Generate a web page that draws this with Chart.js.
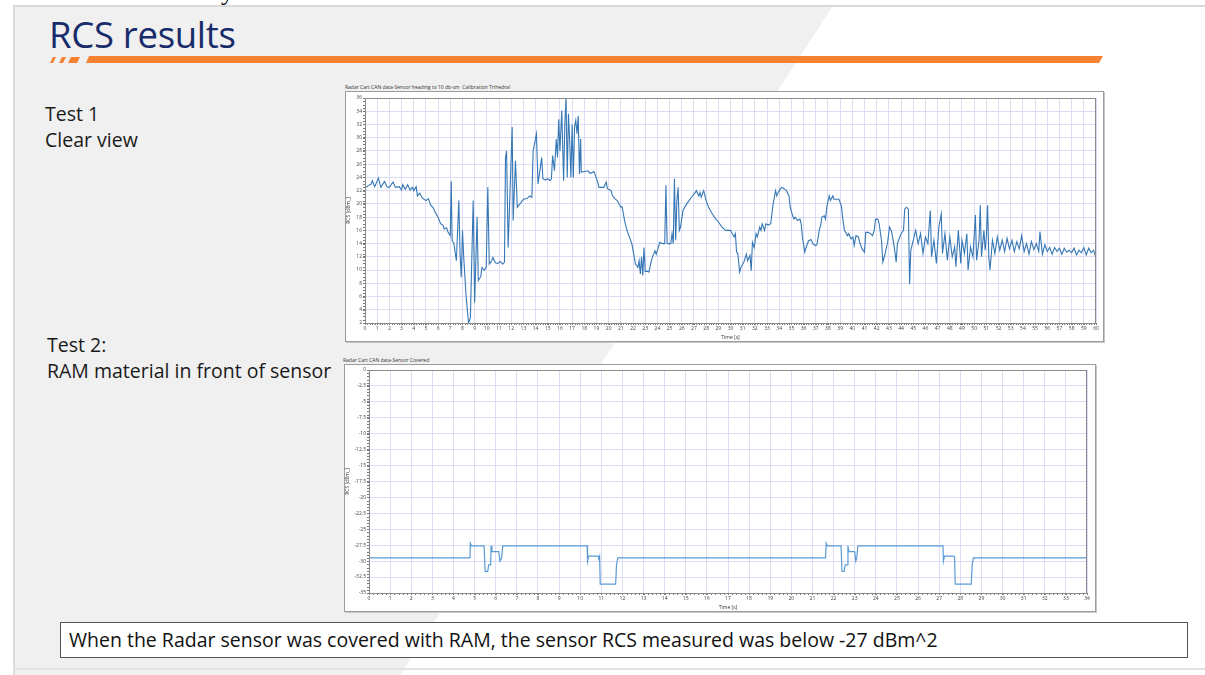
<!DOCTYPE html>
<html>
<head>
<meta charset="utf-8">
<script src="https://cdn.jsdelivr.net/npm/chart.js@4/dist/chart.umd.min.js"></script>
<style>
  body { margin: 0; width: 1205px; height: 675px; position: relative; overflow: hidden; background: #fff; font-family: "Open Sans", "Noto Sans", sans-serif; }
  .abs { position: absolute; }
  #bg { left: 0; top: 0; }
  #title { left: 49px; top: 9px; font-size: 36.5px; color: #182c6b; letter-spacing: -0.3px; }
  .lbl { font-size: 19.5px; color: #1a1a1a; line-height: 26px; }
  .ctitle { font-size: 5px; color: #333; white-space: nowrap; }
  .box { background: #fff; border: 1px solid #9c9c9c; box-shadow: 1px 1px 0 #c8c8c8; }
  #note { left: 60px; top: 622px; border: 1px solid #555; background: #fff; font-size: 19.5px; line-height: 34px; padding-left: 8px; box-sizing: border-box; width: 1128px; height: 36px; color: #111; white-space: nowrap; }
  #cut { left: 221px; top: -23px; font-size: 26px; font-family: "Liberation Serif", serif; color: #000; }
</style>
</head>
<body>
<svg id="bg" class="abs" width="1205" height="675">
  <polygon points="15,7 832,7 400,675 15,675" fill="#f0f0f0"/>
  <rect x="13" y="5" width="1192" height="2" fill="#d9d9d9"/>
  <rect x="13" y="5" width="2" height="670" fill="#dcdcdc"/>
  <rect x="13" y="668" width="1192" height="2" fill="#e2e2e2"/>
  <polygon points="50,63 53,57 56,57 53,63" fill="#f58233"/>
  <polygon points="59,63 62,57 66,57 63,63" fill="#f58233"/>
  <polygon points="68,63 71,57 80,57 77,63" fill="#f58233"/>
  <polygon points="86,63 89,56 1103,56 1099,63" fill="#f58233"/>
</svg>
<div id="cut" class="abs">y</div>
<div id="title" class="abs">RCS results</div>
<div class="abs lbl" style="left:45px; top:101px;">Test 1<br>Clear view</div>
<div class="abs lbl" style="left:47px; top:332px;">Test 2:<br>RAM material in front of sensor</div>

<div class="abs ctitle" style="left:345px; top:84px;">Radar Cart CAN data-Sensor heading to 10 db-sm&nbsp; Calibration Trihedral</div>
<div class="abs box" style="left:345px; top:91px; width:757px; height:249px;">
  <canvas id="chart1" width="757" height="249"></canvas>
</div>

<div class="abs ctitle" style="left:343px; top:357px;">Radar Cart CAN data-Sensor Covered</div>
<div class="abs box" style="left:344px; top:364px; width:750px; height:246px;">
  <canvas id="chart2" width="750" height="246"></canvas>
</div>

<div id="note" class="abs">When the Radar sensor was covered with RAM, the sensor RCS measured was below -27 dBm^2</div>

<script>
// Test 1 - clear view (time in s, RCS in dBm²)
const time1 = [
  0.0, 0.3, 0.5, 0.6, 0.8, 1.1, 1.3, 1.6, 1.8, 2.0, 2.3, 2.5, 2.8, 3.0, 3.1, 3.3, 3.5, 3.7, 3.9, 4.0,
  4.2, 4.3, 4.5, 4.7, 5.0, 5.2, 5.4, 5.6, 5.8, 6.0, 6.2, 6.4, 6.5, 6.7, 6.8, 7.0, 7.08, 7.15, 7.3, 7.5,
  7.7, 7.8, 7.9, 8.0, 8.1, 8.3, 8.5, 8.65, 8.88, 9.0, 9.2, 9.3, 9.5, 9.6, 9.8, 9.95, 10.08, 10.2, 10.4, 10.5,
  10.7, 10.9, 11.1, 11.3, 11.45, 11.53, 11.62, 11.75, 12.08, 12.16, 12.35, 12.5, 12.8, 13.0, 13.3, 13.5, 13.7, 13.8, 14.07, 14.2,
  14.5, 14.6, 14.8, 15.0, 15.2, 15.3, 15.4, 15.55, 15.7, 15.8, 15.9, 16.0, 16.15, 16.3, 16.4, 16.5, 16.6, 16.7, 16.8, 16.9,
  17.0, 17.1, 17.2, 17.3, 17.4, 17.5, 17.6, 17.7, 17.75, 18.0, 18.3, 18.5, 18.8, 19.1, 19.2, 19.6, 19.8, 19.9, 20.2, 20.3,
  20.5, 20.7, 21.0, 21.1, 21.3, 21.5, 21.9, 22.2, 22.4, 22.5, 22.6, 22.7, 22.8, 22.9, 23.0, 23.2, 23.3, 23.5, 23.6, 23.8,
  23.9, 24.2, 24.4, 24.6, 24.7, 24.8, 25.1, 25.2, 25.3, 25.4, 25.5, 25.6, 25.7, 25.8, 25.9, 26.1, 26.4, 26.6, 26.8, 27.1,
  27.2, 27.4, 27.5, 27.6, 27.8, 28.0, 28.2, 28.5, 28.8, 29.0, 29.3, 29.6, 30.0, 30.3, 30.4, 30.5, 30.6, 30.75, 30.85, 31.1,
  31.3, 31.4, 31.6, 31.7, 31.8, 31.95, 32.1, 32.2, 32.4, 32.5, 32.6, 32.8, 32.9, 33.1, 33.3, 33.5, 33.7, 33.8, 33.9, 34.1,
  34.2, 34.4, 34.6, 34.8, 34.9, 35.1, 35.2, 35.3, 35.5, 35.7, 35.8, 35.9, 36.1, 36.2, 36.4, 36.6, 36.8, 37.0, 37.1, 37.3,
  37.4, 37.5, 37.7, 37.8, 37.9, 38.1, 38.2, 38.4, 38.5, 38.7, 38.9, 39.1, 39.2, 39.35, 39.6, 39.7, 39.9, 40.05, 40.15, 40.3,
  40.5, 40.6, 40.8, 41.0, 41.1, 41.3, 41.5, 41.65, 41.8, 41.9, 42.1, 42.2, 42.4, 42.5, 42.65, 42.8, 42.9, 43.05, 43.2, 43.3,
  43.45, 43.6, 43.7, 43.9, 44.0, 44.2, 44.3, 44.45, 44.6, 44.7, 44.8, 45.0, 45.2, 45.4, 45.6, 45.8, 46.0, 46.2, 46.4, 46.5,
  46.7, 46.9, 47.1, 47.3, 47.4, 47.6, 47.8, 48.0, 48.2, 48.4, 48.5, 48.7, 48.9, 49.0, 49.2, 49.4, 49.5, 49.7, 49.9, 50.1,
  50.2, 50.4, 50.5, 50.6, 50.8, 50.9, 51.0, 51.1, 51.2, 51.3, 51.5, 51.7, 51.9, 52.1, 52.3, 52.5, 52.7, 52.9, 53.1, 53.3,
  53.5, 53.7, 53.9, 54.1, 54.3, 54.5, 54.7, 54.9, 55.1, 55.3, 55.4, 55.6, 55.8, 56.0, 56.2, 56.4, 56.6, 56.8, 57.0, 57.2,
  57.4, 57.6, 57.8, 58.0, 58.2, 58.4, 58.6, 58.8, 59.0, 59.2, 59.4, 59.6, 59.8, 60.0
];
const rcs1 = [
  22.4, 22.8, 23.0, 23.5, 22.6, 23.9, 22.5, 23.4, 22.6, 22.5, 23.3, 22.5, 22.6, 22.1, 22.9, 22.2, 22.9, 22.1, 22.5, 22.0,
  22.6, 21.2, 21.6, 20.9, 20.5, 20.8, 19.8, 19.4, 18.6, 18.0, 17.0, 16.8, 16.2, 16.4, 15.8, 15.2, 23.4, 14.5, 14.0, 11.4,
  20.5, 12.5, 8.9, 16.0, 12.0, 6.0, 2.0, 2.8, 20.5, 5.1, 18.0, 8.4, 9.0, 10.4, 10.0, 10.4, 22.5, 10.9, 11.4, 11.9,
  11.1, 11.0, 11.3, 10.9, 11.2, 27.0, 28.0, 13.4, 31.6, 17.5, 26.5, 19.5, 20.2, 20.7, 20.8, 21.2, 21.0, 28.0, 30.6, 23.0,
  27.0, 23.8, 23.6, 23.8, 23.5, 23.8, 27.3, 25.0, 29.8, 27.0, 32.8, 28.0, 34.1, 23.5, 32.0, 36.1, 24.0, 33.6, 29.6, 24.0,
  32.0, 24.0, 31.6, 32.6, 30.6, 33.3, 24.5, 29.8, 24.8, 24.9, 25.0, 24.6, 24.9, 23.3, 22.5, 22.5, 23.3, 22.3, 22.0, 21.3,
  20.8, 20.5, 19.5, 19.6, 17.5, 16.0, 14.0, 10.9, 10.4, 11.4, 9.4, 12.0, 9.2, 13.4, 9.8, 9.8, 9.7, 11.4, 12.0, 12.9,
  12.4, 14.2, 14.0, 14.0, 22.8, 14.0, 14.0, 15.5, 14.0, 23.8, 14.5, 20.5, 22.5, 16.0, 16.5, 19.0, 20.0, 20.5, 21.0, 21.7,
  22.0, 21.2, 21.7, 21.0, 22.0, 20.5, 19.5, 18.5, 17.7, 17.3, 16.5, 16.0, 16.0, 15.0, 15.5, 12.7, 12.5, 9.7, 10.4, 11.2,
  12.4, 11.4, 12.2, 9.9, 14.2, 13.4, 15.5, 15.0, 16.5, 16.0, 17.0, 16.0, 17.0, 16.8, 17.0, 20.0, 22.0, 21.2, 21.7, 22.3,
  22.5, 22.3, 22.0, 21.2, 19.5, 18.2, 17.7, 18.0, 17.5, 17.7, 17.0, 15.0, 12.7, 13.4, 14.4, 14.6, 13.9, 13.7, 13.9, 16.2,
  16.7, 18.0, 18.2, 17.7, 19.5, 21.2, 20.5, 21.2, 20.7, 20.7, 20.7, 19.7, 18.0, 16.0, 15.2, 15.5, 14.7, 15.0, 13.7, 15.2,
  15.0, 14.2, 13.2, 12.7, 15.7, 15.7, 15.5, 15.2, 16.0, 17.7, 17.7, 17.0, 14.4, 11.2, 12.2, 13.4, 14.2, 16.5, 16.0, 15.0,
  13.4, 11.2, 14.0, 15.0, 15.5, 16.0, 19.2, 19.5, 19.2, 7.9, 13.0, 14.5, 16.0, 14.0, 15.5, 12.5, 15.0, 14.0, 19.0, 12.0,
  14.5, 11.0, 16.5, 18.5, 12.5, 15.5, 11.5, 15.0, 12.0, 13.5, 10.5, 16.0, 11.0, 14.5, 12.5, 15.5, 10.0, 13.5, 12.0, 18.3,
  11.5, 14.5, 19.8, 12.0, 16.0, 13.0, 15.0, 19.8, 12.0, 10.0, 14.5, 12.5, 15.0, 13.0, 14.5, 12.8, 14.8, 13.2, 14.5, 12.8,
  14.3, 13.2, 15.2, 12.8, 14.0, 12.4, 14.3, 13.1, 14.0, 12.8, 15.8, 12.4, 13.8, 12.8, 13.4, 12.4, 13.4, 12.8, 13.3, 12.4,
  13.3, 12.7, 13.0, 12.6, 13.3, 12.3, 13.0, 12.6, 13.4, 12.3, 13.3, 12.6, 13.0, 11.8
];

// Test 2 - RAM in front of sensor
const time2 = [
  0, 4.78, 4.8, 4.85, 5.45, 5.5, 5.62, 5.67, 5.76, 5.78, 5.82, 6.15, 6.2, 6.28, 6.33, 10.33, 10.35, 10.4, 10.85, 10.88,
  10.92, 10.95, 11.68, 11.72, 11.78, 21.62, 21.65, 21.7, 22.35, 22.4, 22.5, 22.55, 22.65, 22.68, 22.72, 23.0, 23.05, 23.1, 23.15, 27.18,
  27.2, 27.25, 27.7, 27.73, 27.76, 28.52, 28.56, 28.62, 34
];
const rcs2 = [
  -29.5, -29.5, -27.2, -27.6, -27.6, -31.6, -31.6, -30.6, -30.6, -27.6, -28.5, -28.5, -30.0, -29.5, -27.6, -27.6, -30.0, -29.2, -29.2, -29.5,
  -29.2, -33.6, -33.6, -30.6, -29.5, -29.5, -27.2, -27.6, -27.6, -31.6, -31.6, -30.6, -30.6, -27.6, -28.5, -28.5, -30.0, -29.5, -27.6, -27.6,
  -30.0, -29.2, -29.2, -29.5, -33.6, -33.6, -30.6, -29.5, -29.5
];

const GRID = '#dcdcf5';
const TICK_FONT = { family: 'Open Sans', size: 5 };

// petites graduations + cadre de la zone de tracé
const minorTicks = {
  id: 'minorTicks',
  afterDraw(chart, args, opts) {
    const { ctx, chartArea: a, scales: { x, y } } = chart;
    ctx.save();
    ctx.strokeStyle = '#7a7a7a';
    ctx.lineWidth = 1;
    ctx.beginPath();
    const nx = Math.round((x.max - x.min) / opts.xStep);
    for (let i = 0; i <= nx; i++) {
      const px = Math.round(x.getPixelForValue(x.min + i * opts.xStep)) + 0.5;
      ctx.moveTo(px, a.bottom);
      ctx.lineTo(px, a.bottom + 2);
    }
    const ny = Math.round((y.max - y.min) / opts.yStep);
    for (let i = 0; i <= ny; i++) {
      const py = Math.round(y.getPixelForValue(y.min + i * opts.yStep)) + 0.5;
      ctx.moveTo(a.left - 2, py);
      ctx.lineTo(a.left, py);
    }
    ctx.stroke();
    ctx.strokeStyle = '#8a8a8a';
    ctx.strokeRect(Math.round(a.left) + 0.5, Math.round(a.top) + 0.5, Math.round(a.width) - 1, Math.round(a.height));
    ctx.restore();
  }
};

const makeChart = (id, xs, ys, cfg) => {
  const points = xs.map((t, i) => ({ x: t, y: ys[i] }));
  return new Chart(document.getElementById(id), {
    type: 'line',
    data: {
      datasets: [{
        data: points,
        borderColor: cfg.color,
        borderWidth: cfg.width,
        pointRadius: 0,
        tension: 0
      }]
    },
    options: {
      responsive: false,
      animation: false,
      devicePixelRatio: 1,
      layout: { padding: cfg.padding },
      plugins: {
        legend: { display: false },
        tooltip: { enabled: false },
        minorTicks: { xStep: 0.2, yStep: cfg.yMinor }
      },
      scales: {
        x: {
          type: 'linear',
          min: 0,
          max: cfg.xMax,
          afterFit: (s) => { s.height = cfg.xHeight; },
          ticks: { stepSize: 1, autoSkip: false, maxRotation: 0, font: TICK_FONT, color: '#444', padding: 1 },
          grid: { color: GRID, tickLength: 2, tickColor: '#777' },
          border: { color: '#8a8a8a' },
          title: { display: true, text: 'Time [s]', font: TICK_FONT, color: '#333', padding: 0 }
        },
        y: {
          min: cfg.yMin,
          max: cfg.yMax,
          afterFit: (s) => { s.width = cfg.yWidth; },
          ticks: { stepSize: cfg.yStep, autoSkip: false, font: TICK_FONT, color: '#444', padding: 1 },
          grid: { color: GRID, tickLength: 2, tickColor: '#777' },
          border: { color: '#8a8a8a' },
          title: { display: true, text: 'RCS [dBm_]', font: TICK_FONT, color: '#333', padding: 0 }
        }
      }
    },
    plugins: [minorTicks]
  });
};

makeChart('chart1', time1, rcs1, {
  color: '#3677b5', width: 1.1, xMax: 60, yMin: 2, yMax: 36, yStep: 2, yMinor: 0.5,
  padding: { left: 0, top: 6, right: 7, bottom: 0 }, xHeight: 18, yWidth: 19
});

makeChart('chart2', time2, rcs2, {
  color: '#5b9bd5', width: 1.2, xMax: 34, yMin: -35, yMax: 0, yStep: 2.5, yMinor: 0.5,
  padding: { left: 0, top: 5, right: 8, bottom: 0 }, xHeight: 18, yWidth: 24
});
</script>
</body>
</html>
